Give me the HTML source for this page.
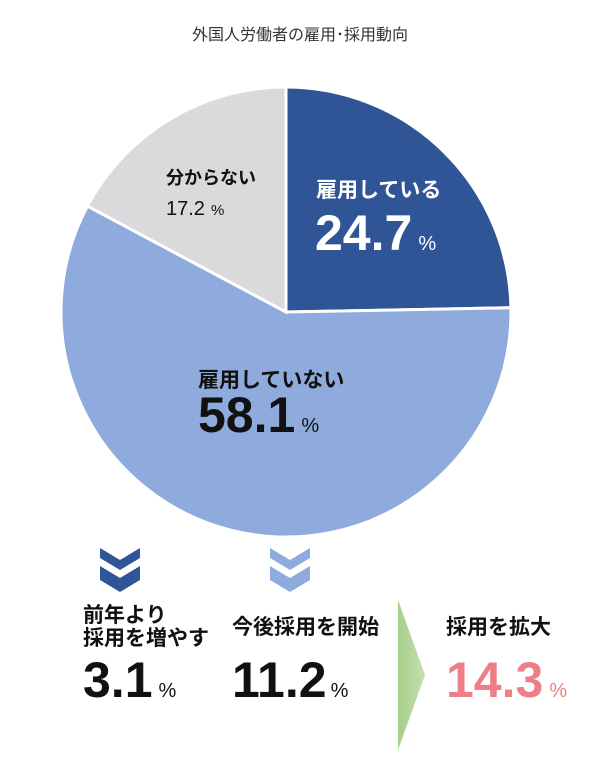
<!DOCTYPE html>
<html><head><meta charset="utf-8"><style>
body{margin:0;width:600px;height:756px;background:#fff;overflow:hidden;font-family:"Liberation Sans","Noto Sans CJK JP",sans-serif}
svg text{font-family:"Liberation Sans","Noto Sans CJK JP",sans-serif}
</style></head><body>
<svg id="chart" width="600" height="756">
<defs><linearGradient id="g" x1="0" x2="1"><stop offset="0" stop-color="#a6cf8a"/><stop offset="1" stop-color="#c5e0b0"/></linearGradient></defs>
<text x="300" y="40" text-anchor="middle" font-size="16" fill="#333">外国人労働者の雇用･採用動向</text>
<g id="pie"></g>
<g fill="#2f5597">
<polygon points="100,548 120,560 140,548 140,558 120,570 100,558"/>
<polygon points="100,566 120,578 140,566 140,580 120,592 100,580"/>
</g>
<g fill="#8faadc">
<polygon points="270,548 290,560 310,548 310,558 290,570 270,558"/>
<polygon points="270,566 290,578 310,566 310,580 290,592 270,580"/>
</g>
<polygon points="398,600 425,675 398,750" fill="url(#g)"/>
<text x="83" y="622" font-size="21" font-weight="bold" fill="#111">前年より</text>
<text x="83" y="645" font-size="21" font-weight="bold" fill="#111">採用を増やす</text>
<text x="83" y="697" font-size="50" font-weight="bold" fill="#111">3.1<tspan font-size="20" font-weight="normal" dx="6">%</tspan></text>
<text x="232" y="634" font-size="21" font-weight="bold" fill="#111">今後採用を開始</text>
<text x="232" y="697" font-size="50" font-weight="bold" fill="#111">11.2<tspan font-size="20" font-weight="normal" dx="4">%</tspan></text>
<text x="446" y="634" font-size="21" font-weight="bold" fill="#111">採用を拡大</text>
<text x="446" y="697" font-size="50" font-weight="bold" fill="#ee7f88">14.3<tspan font-size="20" font-weight="normal" dx="6" fill="#ee7f88">%</tspan></text>
</svg>
<script>
const categories=["雇用している","雇用していない","分からない"];
const values=[24.7,58.1,17.2];
const colors=["#2f5597","#8faadc","#dadadc"];
const cx=286,cy=312,r=225;
const g=document.getElementById('pie');
const NS="http://www.w3.org/2000/svg";
const total=values.reduce((a,b)=>a+b,0);
function pt(f){const a=f*2*Math.PI;return [cx+r*Math.sin(a),cy-r*Math.cos(a)];}
let acc=0;
values.forEach((v,i)=>{
  const s=acc/total,e=(acc+v)/total;acc+=v;
  const [x1,y1]=pt(s),[x2,y2]=pt(e);
  const p=document.createElementNS(NS,'path');
  p.setAttribute('d',`M${cx},${cy}L${x1},${y1}A${r},${r} 0 ${e-s>0.5?1:0} 1 ${x2},${y2}Z`);
  p.setAttribute('fill',colors[i]);p.setAttribute('stroke','#fff');p.setAttribute('stroke-width','3');
  
  
  g.appendChild(p);
});
function lbl(x,y,txt,size,fill,weight,name,pct,pctSize){
  const t=document.createElementNS(NS,'text');
  t.setAttribute('x',x);t.setAttribute('y',y);t.setAttribute('font-size',size);t.setAttribute('fill',fill);t.setAttribute('font-weight',weight);
  t.textContent=txt;
  if(pct){const s=document.createElementNS(NS,'tspan');s.setAttribute('font-size',pctSize);s.setAttribute('font-weight','normal');s.setAttribute('dx','6');s.textContent='%';t.appendChild(s);}
  
  
  g.appendChild(t);
}
lbl(316,197,categories[0],21,'#fff','bold','label-employing');
lbl(315,250,values[0].toFixed(1),50,'#fff','bold','value-employing',true,20);
lbl(198,387,categories[1],21,'#111','bold','label-not-employing');
lbl(198,432,values[1].toFixed(1),50,'#111','bold','value-not-employing',true,20);
lbl(166,184,categories[2],18,'#111','bold','label-unknown');
lbl(166,215,values[2].toFixed(1),20,'#111','normal','value-unknown',true,15);
</script>
</body></html>
